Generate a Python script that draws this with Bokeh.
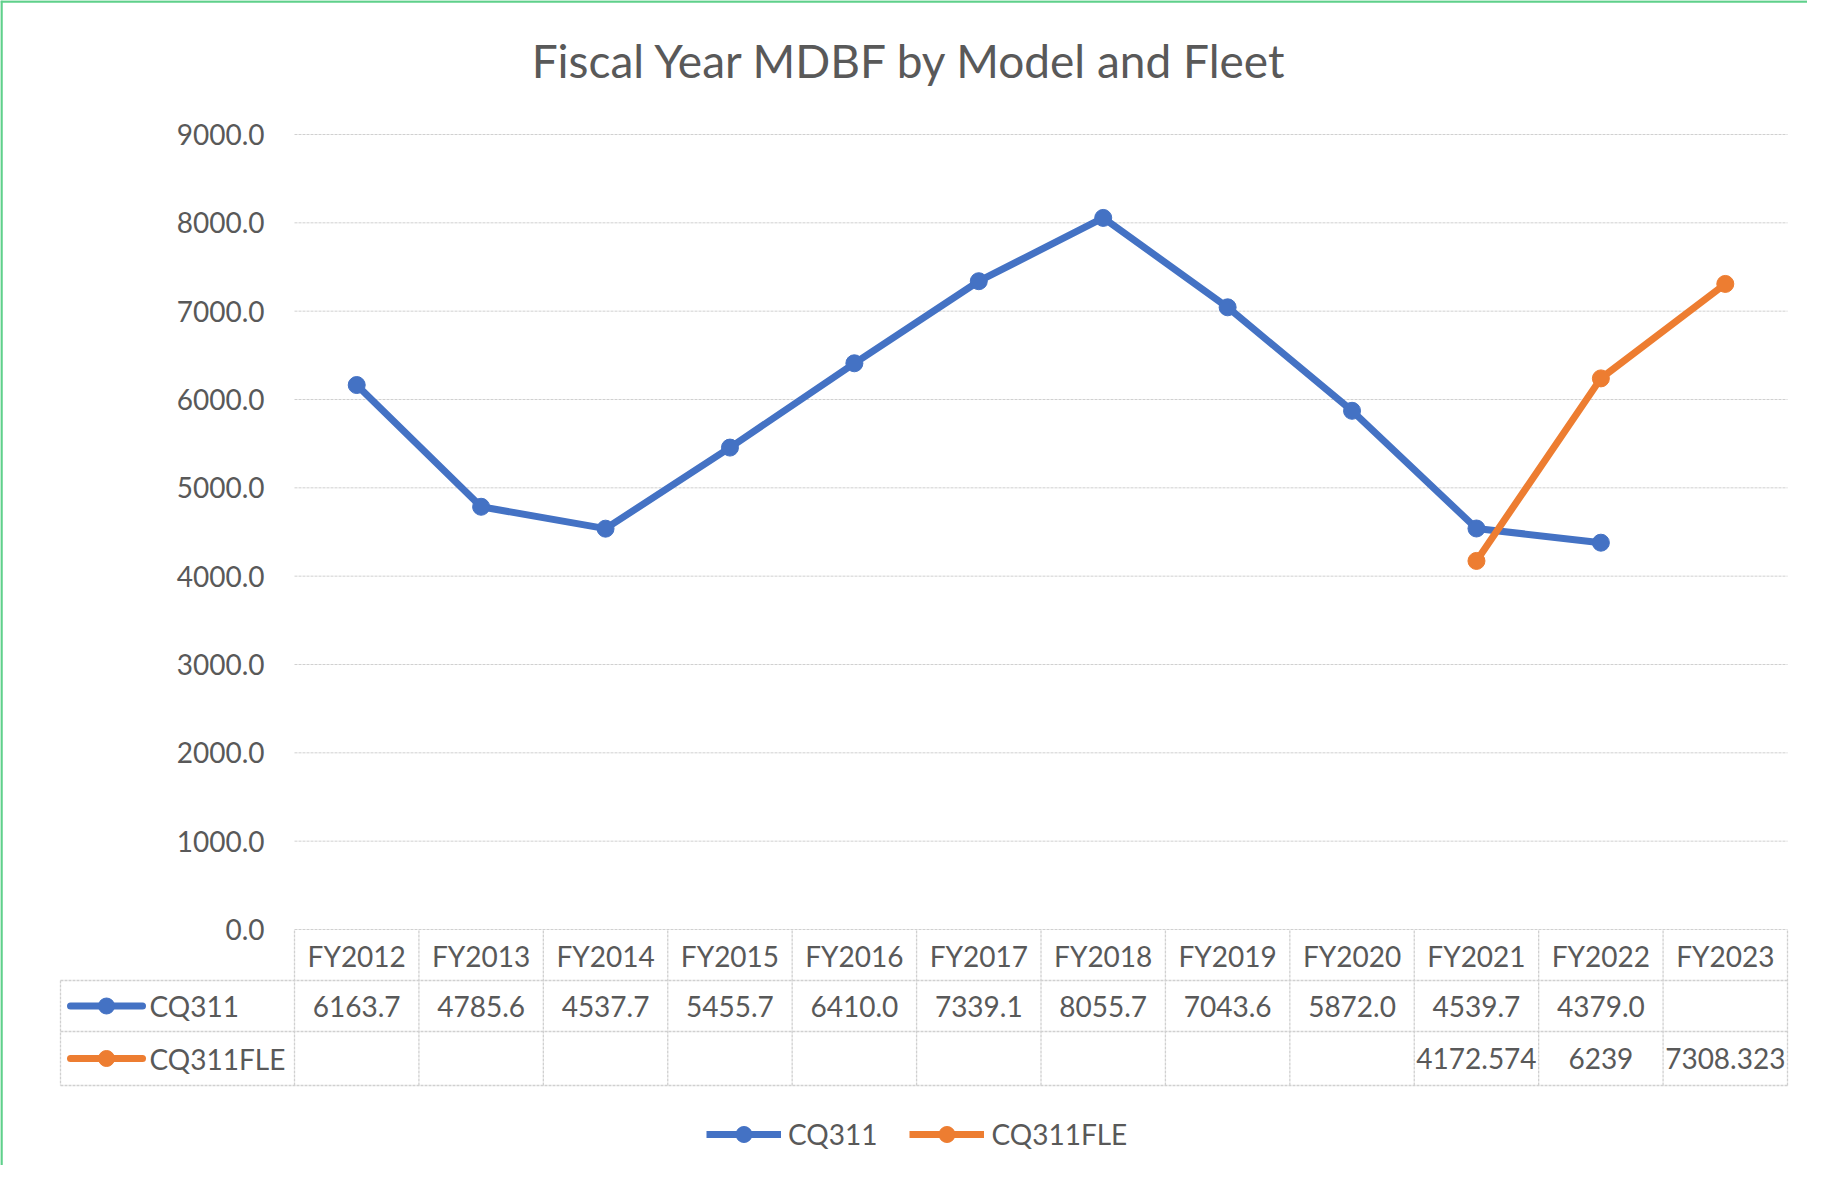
import math
from bokeh.plotting import figure
from bokeh.models import Range1d, ColumnDataSource, Legend, LegendItem
from bokeh.core.properties import value
from bokeh.embed import file_html
from bokeh.resources import INLINE

# ---------------- data ----------------
categories = ["FY2012", "FY2013", "FY2014", "FY2015", "FY2016", "FY2017",
              "FY2018", "FY2019", "FY2020", "FY2021", "FY2022", "FY2023"]
cq311 = [6163.7, 4785.6, 4537.7, 5455.7, 6410.0, 7339.1,
         8055.7, 7043.6, 5872.0, 4539.7, 4379.0, float("nan")]
cq311fle = [float("nan")] * 9 + [4172.574, 6239, 7308.323]
series_names = ["CQ311", "CQ311FLE"]
y_ticks = [0, 1000, 2000, 3000, 4000, 5000, 6000, 7000, 8000, 9000]
title_text = "Fiscal Year MDBF by Model and Fleet"

# ---------------- layout (canvas pixels) ----------------
W, H = 1807, 1165
X0_PX, X12_PX = 294, 1787          # plot area left/right
Y0_PX, Y9K_PX = 929, 134           # value 0 / value 9000
PX_PER_CAT = (X12_PX - X0_PX) / len(categories)
PX_PER_VAL = (Y0_PX - Y9K_PX) / 9000.0

def cx(px):
    return (px - X0_PX) / PX_PER_CAT

def cy(py):
    return (Y0_PX - py) / PX_PER_VAL

BLUE = "#4472C4"
ORANGE = "#ED7D31"
TXT = "#595959"
GRID = "#d0d0d0"
FONT = value("Lato")
FS = "28px"

p = figure(width=W, height=H, x_range=Range1d(cx(0), cx(W)), y_range=Range1d(cy(H), cy(0)),
           output_backend="svg", toolbar_location=None, min_border=0,
           outline_line_color=None, background_fill_color="white", border_fill_color="white")
p.axis.visible = False
p.grid.visible = False

n = len(categories)
xc = [i + 0.5 for i in range(n)]

# window frame edges (green selection border at top and left)
p.segment(x0=[cx(0), cx(1)], y0=[cy(1), cy(0)], x1=[cx(W), cx(1)], y1=[cy(1), cy(H)],
          line_color="#5fd08b", line_width=2.5)

# gridlines
p.segment(x0=[0] * len(y_ticks), y0=y_ticks, x1=[n] * len(y_ticks), y1=y_ticks,
          line_color=GRID, line_width=1, line_dash="3 1")
# y tick labels
p.text(x=[cx(264)] * len(y_ticks), y=y_ticks, text=["%.1f" % t for t in y_ticks],
       text_font=FONT, text_font_size=FS, text_color=TXT, text_align="right", text_baseline="middle")

# title
p.text(x=[cx(910)], y=[cy(60)], text=[title_text], text_font=FONT, text_font_size="46px",
       text_color=TXT, text_align="center", text_baseline="middle")

# ---------------- data table ----------------
hdr_top, hdr_bot, r1_bot, r2_bot = 930, 980, 1031, 1085
leg_left = 60
tl = "#d0d0d0"
p.segment(x0=[cx(leg_left)] * 3, y0=[cy(hdr_bot), cy(r1_bot), cy(r2_bot)],
          x1=[n] * 3, y1=[cy(hdr_bot), cy(r1_bot), cy(r2_bot)],
          line_color=tl, line_width=1.3, line_dash="3 1")
p.segment(x0=list(range(n + 1)), y0=[cy(hdr_top)] * (n + 1), x1=list(range(n + 1)),
          y1=[cy(r2_bot)] * (n + 1), line_color=tl, line_width=1.3, line_dash="3 1")
p.segment(x0=[cx(leg_left)], y0=[cy(hdr_bot)], x1=[cx(leg_left)], y1=[cy(r2_bot)],
          line_color=tl, line_width=1.3, line_dash="3 1")

def fmt_fle(v):
    return ("%f" % v).rstrip("0").rstrip(".")

row_hdr_y = cy((hdr_top + hdr_bot) / 2)
row1_y = cy((hdr_bot + r1_bot) / 2)
row2_y = cy((r1_bot + r2_bot) / 2)

p.text(x=xc, y=[row_hdr_y] * n, text=categories, text_font=FONT, text_font_size=FS,
       text_color=TXT, text_align="center", text_baseline="middle")
t1 = [(i + 0.5, "%.1f" % v) for i, v in enumerate(cq311) if not math.isnan(v)]
p.text(x=[a for a, _ in t1], y=[row1_y] * len(t1), text=[b for _, b in t1], text_font=FONT,
       text_font_size=FS, text_color=TXT, text_align="center", text_baseline="middle")
t2 = [(i + 0.5, fmt_fle(v)) for i, v in enumerate(cq311fle) if not math.isnan(v)]
p.text(x=[a for a, _ in t2], y=[row2_y] * len(t2), text=[b for _, b in t2], text_font=FONT,
       text_font_size=FS, text_color=TXT, text_align="center", text_baseline="middle")

# legend keys inside table
for ry, col, name in [(row1_y, BLUE, series_names[0]), (row2_y, ORANGE, series_names[1])]:
    p.segment(x0=[cx(70)], y0=[ry], x1=[cx(142)], y1=[ry], line_color=col, line_width=7, line_cap="round")
    p.scatter(x=[cx(106)], y=[ry], size=16, color=col)
    p.text(x=[cx(149)], y=[ry], text=[name], text_font=FONT, text_font_size=FS,
           text_color=TXT, text_align="left", text_baseline="middle")

# ---------------- series ----------------
src = ColumnDataSource(dict(x=xc, cq311=cq311, fle=cq311fle))
l1 = p.line("x", "cq311", source=src, line_color=BLUE, line_width=7, line_join="round")
m1 = p.scatter("x", "cq311", source=src, size=17, color=BLUE)
l2 = p.line("x", "fle", source=src, line_color=ORANGE, line_width=7, line_join="round")
m2 = p.scatter("x", "fle", source=src, size=17, color=ORANGE)

legend = Legend(items=[LegendItem(label=series_names[0], renderers=[l1, m1]),
                       LegendItem(label=series_names[1], renderers=[l2, m2])],
                orientation="horizontal", location=(706, 11),
                glyph_width=75, glyph_height=40, label_height=40, label_standoff=7,
                spacing=32, padding=0, margin=0, border_line_color=None,
                background_fill_alpha=0, label_text_font="Lato", label_text_font_size=FS,
                label_text_color=TXT)
p.add_layout(legend, "center")

open("out.html", "w").write(file_html(p, INLINE))
